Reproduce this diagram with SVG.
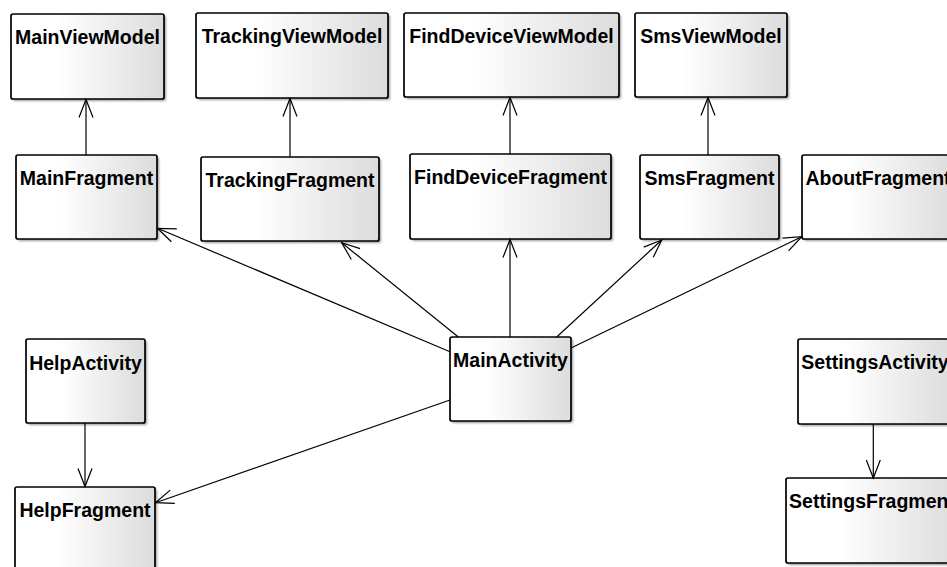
<svg xmlns="http://www.w3.org/2000/svg" width="947" height="567" viewBox="0 0 947 567">
  <defs>
    <linearGradient id="boxFill" x1="0" y1="0" x2="1" y2="0">
      <stop offset="0" stop-color="#ffffff"/>
      <stop offset="0.3" stop-color="#ffffff"/>
      <stop offset="1" stop-color="#dcdcdc"/>
    </linearGradient>
    <filter id="soft" x="-10%" y="-10%" width="130%" height="130%">
      <feGaussianBlur stdDeviation="1"/>
    </filter>
    <marker id="open" markerUnits="userSpaceOnUse" markerWidth="24" markerHeight="20" viewBox="-20 -10 24 20" refX="0" refY="0" orient="auto">
      <path d="M -18 -7 L 0 0 L -18 7" fill="none" stroke="#000" stroke-width="1.2"/>
    </marker>
    <style>
      .shadow { fill: #9a9a9a; filter: url(#soft); }
      .box { fill: url(#boxFill); stroke: #000; stroke-width: 1.7; }
      .label { font-family: "Liberation Sans", Arial, sans-serif; font-weight: bold; font-size: 19.5px; fill: #000; text-anchor: middle; }
      .edge { fill: none; stroke: #000; stroke-width: 1.2; marker-end: url(#open); }
    </style>
  </defs>

  <rect width="947" height="567" fill="#ffffff"/>

  <!-- view models -->
  <g id="MainViewModel">
    <rect class="shadow" x="13" y="16" width="153" height="85" rx="2"/>
    <rect class="box" x="11" y="14" width="153" height="85" rx="2"/>
    <text class="label" x="87.5" y="43.5">MainViewModel</text>
  </g>
  <g id="TrackingViewModel">
    <rect class="shadow" x="198" y="15" width="192" height="85" rx="2"/>
    <rect class="box" x="196" y="13" width="192" height="85" rx="2"/>
    <text class="label" x="292" y="43">TrackingViewModel</text>
  </g>
  <g id="FindDeviceViewModel">
    <rect class="shadow" x="406" y="15" width="215" height="84" rx="2"/>
    <rect class="box" x="404" y="13" width="215" height="84" rx="2"/>
    <text class="label" x="511.5" y="43">FindDeviceViewModel</text>
  </g>
  <g id="SmsViewModel">
    <rect class="shadow" x="637" y="15" width="152" height="84" rx="2"/>
    <rect class="box" x="635" y="13" width="152" height="84" rx="2"/>
    <text class="label" x="711" y="43">SmsViewModel</text>
  </g>

  <!-- fragments -->
  <g id="MainFragment">
    <rect class="shadow" x="18" y="157" width="141" height="84" rx="2"/>
    <rect class="box" x="16" y="155" width="141" height="84" rx="2"/>
    <text class="label" x="86.5" y="185">MainFragment</text>
  </g>
  <g id="TrackingFragment">
    <rect class="shadow" x="203" y="159" width="178" height="84" rx="2"/>
    <rect class="box" x="201" y="157" width="178" height="84" rx="2"/>
    <text class="label" x="290" y="187">TrackingFragment</text>
  </g>
  <g id="FindDeviceFragment">
    <rect class="shadow" x="412" y="156" width="201" height="85" rx="2"/>
    <rect class="box" x="410" y="154" width="201" height="85" rx="2"/>
    <text class="label" x="510.5" y="184">FindDeviceFragment</text>
  </g>
  <g id="SmsFragment">
    <rect class="shadow" x="642" y="157" width="139" height="84" rx="2"/>
    <rect class="box" x="640" y="155" width="139" height="84" rx="2"/>
    <text class="label" x="709.5" y="185">SmsFragment</text>
  </g>
  <g id="AboutFragment">
    <rect class="shadow" x="804" y="157" width="152" height="84" rx="2"/>
    <rect class="box" x="802" y="155" width="152" height="84" rx="2"/>
    <text class="label" x="878" y="185">AboutFragment</text>
  </g>

  <!-- activities -->
  <g id="HelpActivity">
    <rect class="shadow" x="28" y="341" width="119" height="84" rx="2"/>
    <rect class="box" x="26" y="339" width="119" height="84" rx="2"/>
    <text class="label" x="85.5" y="370">HelpActivity</text>
  </g>
  <g id="MainActivity">
    <rect class="shadow" x="452" y="339" width="121" height="84" rx="2"/>
    <rect class="box" x="450" y="337" width="121" height="84" rx="2"/>
    <text class="label" x="510.5" y="367">MainActivity</text>
  </g>
  <g id="SettingsActivity">
    <rect class="shadow" x="800" y="341" width="154" height="85" rx="2"/>
    <rect class="box" x="798" y="339" width="154" height="85" rx="2"/>
    <text class="label" x="875" y="369">SettingsActivity</text>
  </g>
  <g id="HelpFragment">
    <rect class="shadow" x="17" y="489" width="140" height="84" rx="2"/>
    <rect class="box" x="15" y="487" width="140" height="84" rx="2"/>
    <text class="label" x="85" y="517">HelpFragment</text>
  </g>
  <g id="SettingsFragment">
    <rect class="shadow" x="788" y="480" width="172" height="85" rx="2"/>
    <rect class="box" x="786" y="478" width="172" height="85" rx="2"/>
    <text class="label" x="872" y="508">SettingsFragment</text>
  </g>

  <!-- connectors -->
  <g id="connectors">
    <line class="edge" x1="86" y1="155" x2="86" y2="99.5"/>
    <line class="edge" x1="290" y1="157" x2="290" y2="98.5"/>
    <line class="edge" x1="510" y1="154" x2="510" y2="97.5"/>
    <line class="edge" x1="708" y1="155" x2="708" y2="97.5"/>
    <line class="edge" x1="450" y1="351.7" x2="157.5" y2="228.3"/>
    <line class="edge" x1="458.3" y1="337" x2="341.7" y2="242.7"/>
    <line class="edge" x1="510" y1="337" x2="510" y2="239.5"/>
    <line class="edge" x1="556.7" y1="337" x2="661.7" y2="240"/>
    <line class="edge" x1="571" y1="348" x2="801.7" y2="236.7"/>
    <line class="edge" x1="450" y1="400" x2="155.5" y2="502.7"/>
    <line class="edge" x1="85" y1="423" x2="85" y2="486.5"/>
    <line class="edge" x1="873.3" y1="424" x2="873.3" y2="478"/>
  </g>
</svg>
